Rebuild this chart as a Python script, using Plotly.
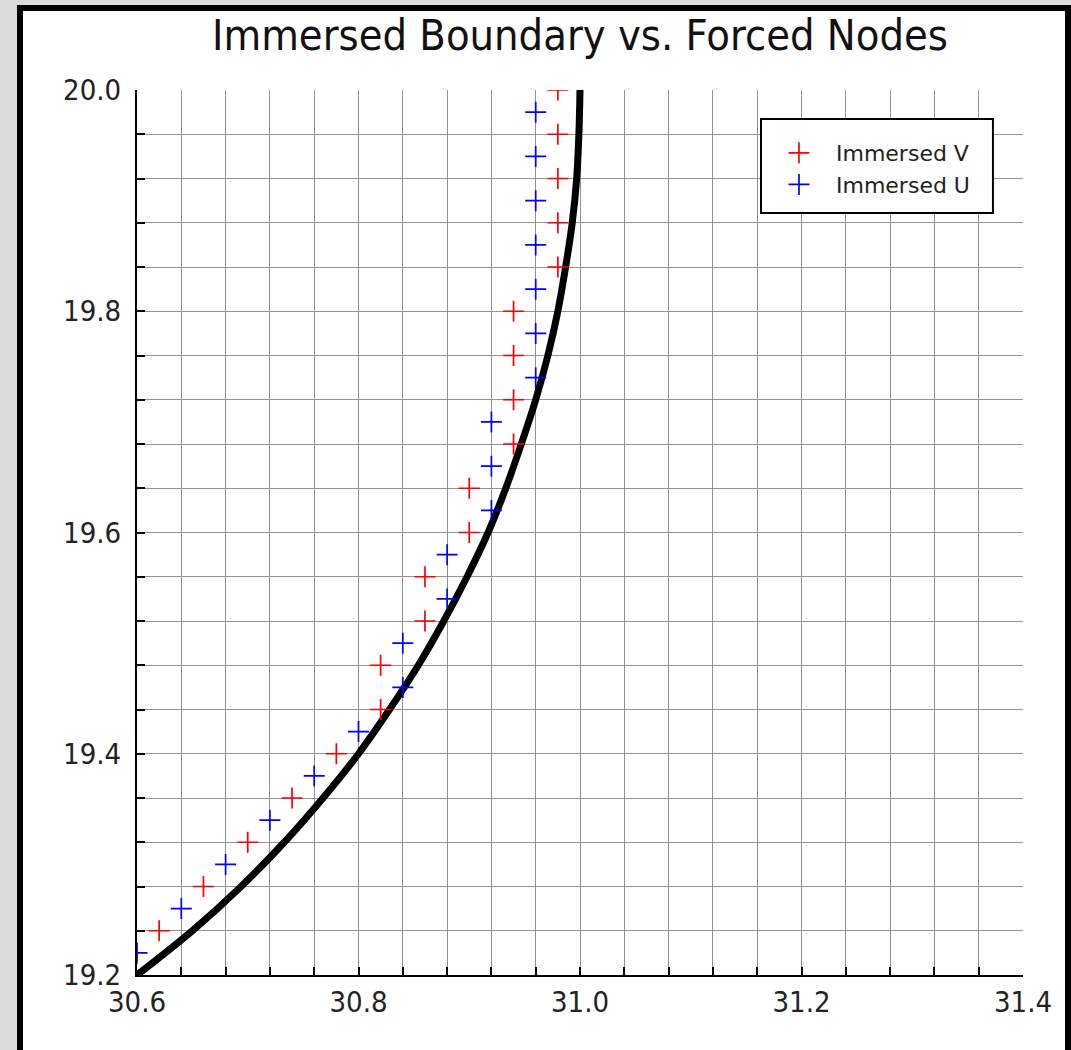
import plotly.graph_objects as go

# Immersed boundary curve (points along the arc)
boundary_x = [30.600, 30.650, 30.694, 30.733, 30.768, 30.800, 30.828, 30.854,
              30.877, 30.898, 30.917, 30.933, 30.947, 30.960, 30.971, 30.980,
              30.987, 30.993, 30.997, 30.999, 31.000]
boundary_y = [19.20, 19.24, 19.28, 19.32, 19.36, 19.40, 19.44, 19.48,
              19.52, 19.56, 19.60, 19.64, 19.68, 19.72, 19.76, 19.80,
              19.84, 19.88, 19.92, 19.96, 20.00]

# Forced V nodes
v_x = [30.62, 30.66, 30.70, 30.74, 30.78, 30.82, 30.82, 30.86, 30.86, 30.90,
       30.90, 30.94, 30.94, 30.94, 30.94, 30.98, 30.98, 30.98, 30.98, 30.98]
v_y = [19.24, 19.28, 19.32, 19.36, 19.40, 19.44, 19.48, 19.52, 19.56, 19.60,
       19.64, 19.68, 19.72, 19.76, 19.80, 19.84, 19.88, 19.92, 19.96, 20.00]

# Forced U nodes
u_x = [30.60, 30.64, 30.68, 30.72, 30.76, 30.80, 30.84, 30.84, 30.88, 30.88,
       30.92, 30.92, 30.92, 30.96, 30.96, 30.96, 30.96, 30.96, 30.96, 30.96]
u_y = [19.22, 19.26, 19.30, 19.34, 19.38, 19.42, 19.46, 19.50, 19.54, 19.58,
       19.62, 19.66, 19.70, 19.74, 19.78, 19.82, 19.86, 19.90, 19.94, 19.98]

x_ticks = [30.6, 30.8, 31.0, 31.2, 31.4]
y_ticks = [19.2, 19.4, 19.6, 19.8, 20.0]

FONT = "DejaVu Sans Condensed, DejaVu Sans, sans-serif"
GRID = "#929292"

fig = go.Figure()

fig.add_trace(go.Scatter(
    x=boundary_x, y=boundary_y, mode="lines",
    line=dict(color="black", width=7, shape="spline"),
    showlegend=False, hoverinfo="skip",
))
fig.add_trace(go.Scatter(
    x=v_x, y=v_y, mode="markers", name="Immersed V",
    marker=dict(symbol="cross-thin", size=15,
                line=dict(color="#ff0000", width=1.7)),
))
fig.add_trace(go.Scatter(
    x=u_x, y=u_y, mode="markers", name="Immersed U",
    marker=dict(symbol="cross-thin", size=15,
                line=dict(color="#0000ff", width=1.7)),
))

axis_common = dict(
    showline=True, linecolor="black", linewidth=2, mirror=False,
    ticks="inside", ticklen=8, tickwidth=1.5, tickcolor="black",
    showgrid=True, gridcolor=GRID, gridwidth=1.3,
    zeroline=False, tickformat=".1f",
    tickfont=dict(family=FONT, size=29, color="#222222"),
)

fig.update_xaxes(
    range=[30.6, 31.4], tickvals=x_ticks,
    minor=dict(dtick=0.04, tick0=30.6, ticks="inside", ticklen=8,
               tickwidth=1.5, tickcolor="black", showgrid=True,
               gridcolor=GRID, gridwidth=1.3),
    ticklabelstandoff=0,
    **axis_common,
)
fig.update_yaxes(
    range=[19.2, 20.0], tickvals=y_ticks,
    minor=dict(dtick=0.04, tick0=19.2, ticks="inside", ticklen=8,
               tickwidth=1.5, tickcolor="black", showgrid=True,
               gridcolor=GRID, gridwidth=1.3),
    ticklabelstandoff=8,
    **axis_common,
)

# White panel with a thick black frame behind the axes
fig.add_shape(
    type="rect", xref="paper", yref="paper",
    x0=-0.13205, x1=1.05079, y0=-0.12, y1=1.09266,
    fillcolor="white", line=dict(color="black", width=6), layer="below",
)
# Legend box
fig.add_shape(
    type="rect", xref="paper", yref="paper",
    x0=0.7043, x1=0.9661, y0=0.8610, y1=0.9672,
    fillcolor="white", line=dict(color="black", width=2), layer="above",
)

fig.update_layout(
    width=1071, height=1050,
    margin=dict(l=137, r=48, t=90, b=75),
    paper_bgcolor="#dcdcdc", plot_bgcolor="white",
    title=dict(text="Immersed Boundary vs. Forced Nodes",
               x=0.5, xref="paper", xanchor="center",
               y=1 - 35 / 1050, yref="container", yanchor="middle",
               font=dict(family=FONT, size=43, color="#111111")),
    legend=dict(x=0.7054, y=0.9525, xanchor="left", yanchor="top",
                bgcolor="rgba(0,0,0,0)", borderwidth=0,
                font=dict(family="DejaVu Sans, sans-serif", size=22,
                          color="#222222"),
                itemwidth=64, tracegroupgap=0),
    showlegend=True,
)

fig.write_html("out.html")
